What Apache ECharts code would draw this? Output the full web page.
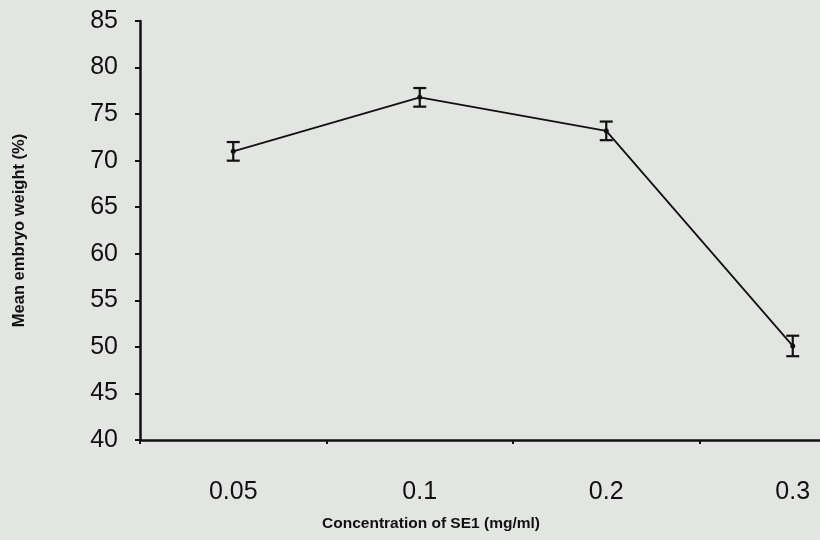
<!DOCTYPE html>
<html><head><meta charset="utf-8">
<script src="https://cdn.jsdelivr.net/npm/echarts@6/dist/echarts.min.js"></script>
<style>html,body{margin:0;padding:0;background:#e3e5e2;}#c{width:820px;height:540px;}</style>
</head><body><div id="c"></div>
<script>
var categories = ['0.05', '0.1', '0.2', '0.3'];
var meanWeight = [71.0, 76.8, 73.2, 50.1];
var errorSize = [1.0, 1.0, 1.0, 1.1];
var yTicks = [40, 45, 50, 55, 60, 65, 70, 75, 80, 85];

var chart = echarts.init(document.getElementById('c'));
var errData = categories.map(function (c, i) {
  return [i, meanWeight[i] - errorSize[i], meanWeight[i] + errorSize[i]];
});
chart.setOption({
  backgroundColor: '#e3e5e2',
  animation: false,
  grid: { left: 140, top: 21, right: -66, bottom: 100, containLabel: false, outerBoundsMode: 'none' },
  xAxis: {
    type: 'category', data: categories, boundaryGap: true,
    name: 'Concentration of SE1 (mg/ml)', nameLocation: 'middle', nameGap: 76,
    nameTextStyle: { fontFamily: 'Liberation Sans', fontWeight: 'bold', fontSize: 15.5, color: '#111', padding: [0, 0, 0, -164] },
    axisLine: { lineStyle: { color: '#111', width: 2.5 } },
    axisTick: { show: true, length: 4, lineStyle: { color: '#111', width: 2 } },
    axisLabel: { fontFamily: 'Liberation Sans', fontSize: 25, color: '#111', margin: 40 },
    splitLine: { show: false }
  },
  yAxis: {
    type: 'value', min: 40, max: 85, interval: 5,
    name: 'Mean embryo weight (%)', nameLocation: 'middle', nameGap: 112, nameRotate: 90,
    nameTextStyle: { fontFamily: 'Liberation Sans', fontWeight: 'bold', fontSize: 16.5, color: '#111' },
    axisLine: { show: true, lineStyle: { color: '#111', width: 2.5 } },
    axisTick: { show: true, length: 5, lineStyle: { color: '#111', width: 2 } },
    axisLabel: { fontFamily: 'Liberation Sans', fontSize: 25, color: '#111', margin: 22,
      formatter: function (v) { return yTicks.indexOf(v) >= 0 ? String(v) : ''; } },
    splitLine: { show: false }
  },
  series: [
    {
      type: 'line', data: meanWeight, symbol: 'circle', symbolSize: 5,
      itemStyle: { color: '#111' }, lineStyle: { color: '#111', width: 1.8 }
    },
    {
      type: 'custom', data: errData, z: 5,
      renderItem: function (params, api) {
        var x = api.value(0);
        var lo = api.coord([x, api.value(1)]);
        var hi = api.coord([x, api.value(2)]);
        var hw = 6.5;
        var st = { stroke: '#111', lineWidth: 2.2 };
        return { type: 'group', children: [
          { type: 'line', shape: { x1: lo[0], y1: lo[1], x2: hi[0], y2: hi[1] }, style: st },
          { type: 'line', shape: { x1: lo[0] - hw, y1: lo[1], x2: lo[0] + hw, y2: lo[1] }, style: st },
          { type: 'line', shape: { x1: hi[0] - hw, y1: hi[1], x2: hi[0] + hw, y2: hi[1] }, style: st }
        ] };
      }
    }
  ]
});
</script></body></html>
